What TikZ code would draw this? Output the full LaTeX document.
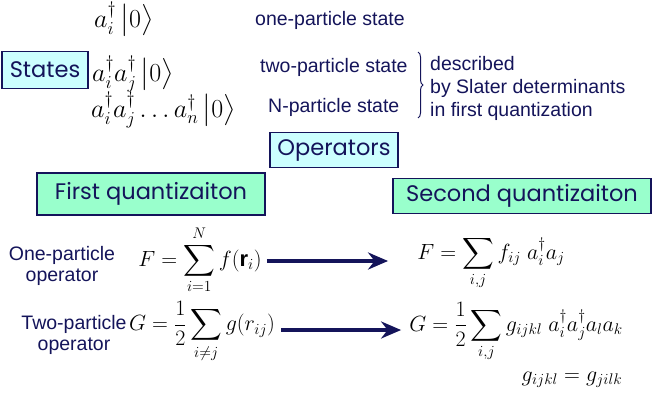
\RequirePackage{fix-cm}
\documentclass[tikz,border=0pt]{standalone}
\usepackage{amsmath,amssymb}
\usepackage{fontspec}
\setmainfont{Liberation Sans}
\newfontfamily\tagfont{Poppins}
\definecolor{navy}{RGB}{20,20,90}
\definecolor{tagcyan}{RGB}{204,255,255}
\definecolor{taggreen}{RGB}{153,255,204}
\usetikzlibrary{arrows.meta,positioning,decorations.pathreplacing}

\begin{document}
\begin{tikzpicture}[x=1pt, y=-1pt,
  tag/.style={rectangle, draw=navy, line width=1.5pt, fill=tagcyan, text=navy,
    font=\tagfont\fontsize{22.5}{27}\selectfont, inner sep=0pt},
  qtag/.style={tag, fill=taggreen},
  txt/.style={font=\fontsize{19.5}{21.5}\selectfont, text=navy, inner sep=0pt},
  state/.style={font=\fontsize{26}{30}\selectfont, inner sep=0pt, anchor=base west},
  eq/.style={font=\fontsize{22}{26}\selectfont, inner sep=0pt},
  arrow/.style={-{Stealth[length=20pt, width=17pt]}, line width=4pt, navy},
]
\useasboundingbox (0,0) rectangle (655,407);

% States
\node[tag, minimum width=86, minimum height=37] (states) at (45,70) {States};
\node[state] (s1) at (94,27) {$a_i^{\dagger}\,\big|0\big\rangle$};
\node[state] (s2) at (92,81) {$a_i^{\dagger}a_j^{\dagger}\,\big|0\big\rangle$};
\node[state] (s3) at (91,117) {$a_i^{\dagger}a_j^{\dagger}\ldots a_n^{\dagger}\,\big|0\big\rangle$};

\node[txt, anchor=west] (one) at (255,20) {one-particle state};
\node[txt, anchor=west] (two) at (260,67) {two-particle state};
\node[txt, anchor=west] (npart) at (268,107) {N-particle state};

\draw[decorate, decoration={brace, amplitude=5pt}, navy, line width=1pt]
  (418,52) -- (418,118);
\node[txt, anchor=west, align=left] (slater) at (430,88)
  {described\\[1.5pt]by Slater determinants\\[1.5pt]in first quantization};

% Operators
\node[tag, minimum width=128, minimum height=35] (ops) at (334,150) {Operators};
\node[qtag, minimum width=228, minimum height=42] (first) at (151,194) {First quantizaiton};
\node[qtag, minimum width=258, minimum height=35] (second) at (522,196) {Second quantizaiton};

\node[txt, align=center] (onep) at (62,266) {One-particle\\operator};
\node[txt, align=center] (twop) at (74,335) {Two-particle\\operator};

\node[eq] (f1) at (200,260) {$\displaystyle F=\sum_{i=1}^{N} f(\mathbf{r}_i)$};
\node[eq] (f2) at (491,263) {$\displaystyle F=\sum_{i,j} f_{ij}\;a_i^{\dagger}a_j$};
\node[eq] (g1) at (202,332) {$\displaystyle G=\frac{1}{2}\sum_{i\neq j} g(r_{ij})$};
\node[eq] (g2) at (516,332) {$\displaystyle G=\frac{1}{2}\sum_{i,j} g_{ijkl}\;a_i^{\dagger}a_j^{\dagger}a_l a_k$};
\node[eq] (g3) at (572,380) {$g_{ijkl}=g_{jilk}$};

% Arrows
\draw[arrow] ([xshift=5pt]f1.east |- 0,261) -- ([xshift=-29pt]f2.west |- 0,261);
\draw[arrow] ([xshift=6pt]g1.east |- 0,330) -- ([xshift=-8pt]g2.west |- 0,330);

\end{tikzpicture}
\end{document}
